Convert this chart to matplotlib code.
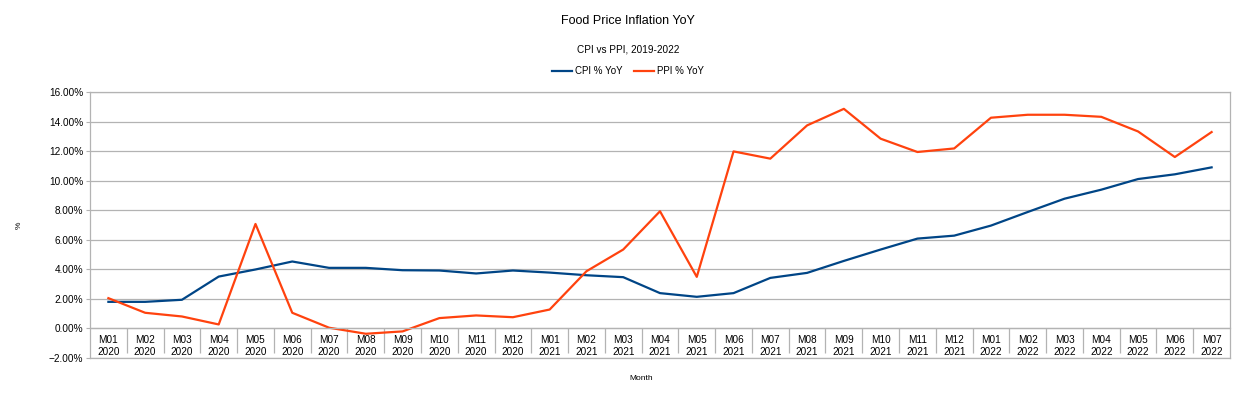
import matplotlib.pyplot as plt
from matplotlib.ticker import FixedLocator, PercentFormatter

plt.rcParams["font.family"] = ["Liberation Sans", "DejaVu Sans"]

months = ["M01", "M02", "M03", "M04", "M05", "M06", "M07", "M08", "M09", "M10", "M11", "M12",
          "M01", "M02", "M03", "M04", "M05", "M06", "M07", "M08", "M09", "M10", "M11", "M12",
          "M01", "M02", "M03", "M04", "M05", "M06", "M07"]
years = ["2020"] * 12 + ["2021"] * 12 + ["2022"] * 7

cpi = [1.80, 1.80, 1.94, 3.51, 3.99, 4.53, 4.10, 4.10, 3.94, 3.92, 3.72, 3.92,
       3.78, 3.60, 3.47, 2.39, 2.14, 2.39, 3.42, 3.76, 4.57, 5.34, 6.08, 6.28,
       6.96, 7.88, 8.78, 9.39, 10.11, 10.43, 10.90]
ppi = [2.05, 1.06, 0.81, 0.27, 7.07, 1.06, 0.05, -0.36, -0.20, 0.70, 0.88, 0.76,
       1.28, 3.87, 5.34, 7.93, 3.49, 11.98, 11.49, 13.74, 14.86, 12.84, 11.94, 12.18,
       14.26, 14.46, 14.46, 14.32, 13.33, 11.60, 13.29]

labels = [m + "\n" + y for m, y in zip(months, years)]
x = list(range(len(labels)))
grid_c = "#b3b3b3"

fig = plt.figure(figsize=(12.56, 3.98), dpi=100)
ax = fig.add_axes([90 / 1256, 40 / 398, 1140 / 1256, 266 / 398])

ax.plot(x, cpi, color="#004586", lw=1.6, label="CPI % YoY")
ax.plot(x, ppi, color="#ff420e", lw=1.6, label="PPI % YoY")

ax.set_xlim(-0.5, len(x) - 0.5)
ax.set_ylim(-2, 16)
ax.set_yticks(range(-2, 17, 2))
ax.yaxis.set_major_formatter(PercentFormatter(xmax=100, decimals=2))
ax.grid(axis="y", color=grid_c, lw=0.9)
ax.axhline(-2, color=grid_c, lw=0.9, clip_on=False)
ax.set_axisbelow(True)

# category axis crosses at zero, separators hang below it
ax.spines["bottom"].set_position(("data", 0))
ax.set_xticks(x)
ax.set_xticklabels(labels, fontsize=7.2, linespacing=1.25)
ax.xaxis.set_minor_locator(FixedLocator([i + 0.5 for i in x[:-1]]))
ax.tick_params(axis="x", which="major", length=0, pad=5)
ax.tick_params(axis="x", which="minor", length=18, color=grid_c, width=0.9)
ax.tick_params(axis="y", length=3, color=grid_c, labelsize=7.2, pad=2)
for s in ax.spines.values():
    s.set_color(grid_c)
    s.set_linewidth(0.9)

fig.text(19 / 1256, 1 - 225 / 398, "%", fontsize=6, rotation=90, ha="center", va="center")
fig.text(641 / 1256, 1 - 379 / 398, "Month", fontsize=6, ha="center", va="center")

fig.text(0.5, 1 - 21 / 398, "Food Price Inflation YoY", fontsize=9, ha="center", va="center")
fig.text(0.5, 1 - 49 / 398, "CPI vs PPI, 2019-2022", fontsize=7.2, ha="center", va="center")
fig.legend(loc="center", bbox_to_anchor=(628 / 1256, 1 - 71 / 398), ncol=2, frameon=False,
           fontsize=7, handlelength=2.0, handletextpad=0.3, columnspacing=1.2)

fig.savefig("out.png", dpi=100)
